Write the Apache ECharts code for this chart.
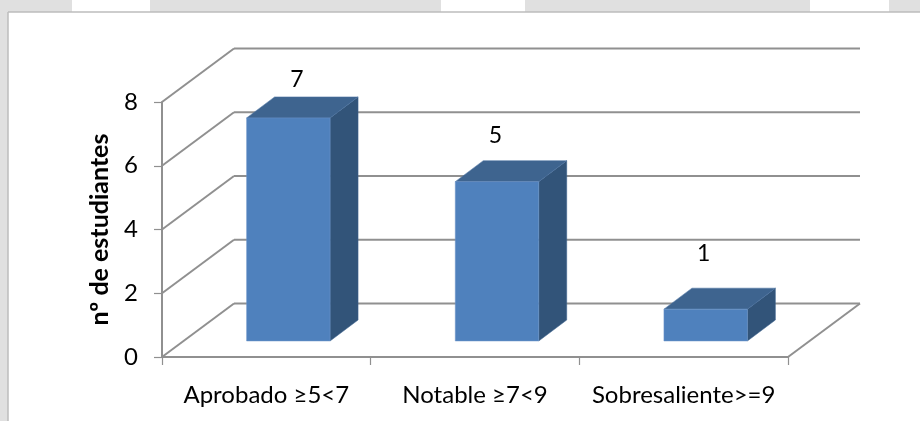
<!DOCTYPE html>
<html><head><meta charset="utf-8">
<style>html,body{margin:0;padding:0;background:#fff}#c{width:920px;height:421px}</style>
<script src="https://cdn.jsdelivr.net/npm/echarts@6/dist/echarts.min.js"></script>
</head><body><div id="c"></div>
<script>
const categories = ['Aprobado ≥5<7', 'Notable ≥7<9', 'Sobresaliente>=9'];
const students = [7, 5, 1];
const yTicks = [0, 2, 4, 6, 8];
const yAxisTitle = 'nº de estudiantes';

const FONT = 'Lato, "Open Sans", sans-serif';
const WALL = {dx: 72, dy: -53.5};
const BAR = {ratio: 0.4, shiftX: 22, shiftY: -16, dx: 28, dy: -21};
const LABEL_NUDGE = [[8.5, -38], [-1.5, -46], [-2, -56]];
const LINE = '#909090';

const chart = echarts.init(document.getElementById('c'), null, {renderer: 'canvas'});
const strips = [[0,0,72,12],[150,0,291,12],[525,0,285,12],[889,0,31,12],[0,0,8,421]];

function renderWall(params, api) {
  const g = params.coordSys;
  const y = api.coord([0, api.value(1)])[1];
  const style = {stroke: LINE, lineWidth: 2};
  const kids = [
    {type: 'line', shape: {x1: g.x, y1: y, x2: g.x + WALL.dx, y2: y + WALL.dy}, style},
    {type: 'line', shape: {x1: g.x + WALL.dx, y1: y + WALL.dy, x2: g.x + g.width + WALL.dx, y2: y + WALL.dy}, style: {stroke: LINE, lineWidth: 2.2}}
  ];
  if (api.value(1) === 0) {
    kids.push({type: 'line', shape: {x1: g.x + g.width, y1: y, x2: g.x + g.width + WALL.dx, y2: y + WALL.dy}, style});
  }
  return {type: 'group', children: kids};
}

function renderBar(params, api) {
  const i = api.value(0), v = api.value(1);
  const w = api.size([1, 0])[0] * BAR.ratio;
  const cx = api.coord([i, 0])[0] + BAR.shiftX;
  const bottom = api.coord([i, 0])[1] + BAR.shiftY;
  const top = api.coord([i, v])[1] + BAR.shiftY;
  const x0 = cx - w / 2, x1 = cx + w / 2;
  const d = BAR;
  return {type: 'group', children: [
    {type: 'polygon', shape: {points: [[x1, top], [x1 + d.dx, top + d.dy], [x1 + d.dx, bottom + d.dy], [x1, bottom]]}, style: {fill: '#325479', stroke: '#3e6491', lineWidth: 0.5}},
    {type: 'polygon', shape: {points: [[x0, top], [x0 + d.dx, top + d.dy], [x1 + d.dx, top + d.dy], [x1, top]]}, style: {fill: '#3e648f', stroke: '#4a73a3', lineWidth: 0.5}},
    {type: 'rect', shape: {x: x0, y: top, width: w, height: bottom - top}, style: {fill: '#4f81bd', stroke: '#6f97ca', lineWidth: 0.5}},
    {type: 'text', style: {text: String(v), x: cx + LABEL_NUDGE[i][0], y: top + LABEL_NUDGE[i][1], align: 'center', verticalAlign: 'middle', fill: '#000', font: '23px ' + FONT}}
  ]};
}

chart.setOption({
  animation: false,
  backgroundColor: '#fff',
  graphic: [
    ...strips.map(s => ({type: 'rect', silent: true, z: -10, shape: {x: s[0], y: s[1], width: s[2], height: s[3]}, style: {fill: '#e0e0e0'}})),
    {type: 'line', silent: true, z: -9, shape: {x1: 8, y1: 12, x2: 920, y2: 12}, style: {stroke: '#bdbdbd', lineWidth: 1.5}},
    {type: 'line', silent: true, z: -9, shape: {x1: 8, y1: 12, x2: 8, y2: 421}, style: {stroke: '#bdbdbd', lineWidth: 1.5}}
  ],
  grid: {left: 162, right: 132, top: 102, bottom: 64},
  xAxis: {
    type: 'category', data: categories,
    axisLine: {lineStyle: {color: LINE, width: 2.2}},
    axisTick: {show: true, length: 8, lineStyle: {color: LINE, width: 1.2}},
    axisLabel: {color: '#000', fontFamily: FONT, fontSize: 24, margin: 26, interval: 0},
    splitLine: {show: false}
  },
  yAxis: {
    type: 'value', min: 0, max: 8, interval: 2,
    name: yAxisTitle, nameLocation: 'middle', nameGap: 50,
    nameTextStyle: {color: '#000', fontFamily: FONT, fontSize: 25, fontWeight: 'bold'},
    axisLine: {show: true, lineStyle: {color: LINE, width: 2}},
    axisTick: {show: true, length: 8, lineStyle: {color: LINE, width: 1.2}},
    axisLabel: {color: '#000', fontFamily: FONT, fontSize: 24, margin: 24, padding: [4, 0, 0, 0]},
    splitLine: {show: false}
  },
  series: [
    {type: 'custom', silent: true, z: 1, renderItem: renderWall, data: yTicks.map(v => [0, v])},
    {type: 'custom', silent: true, z: 2, renderItem: renderBar, data: students.map((v, i) => [i, v])}
  ]
});
</script></body></html>
